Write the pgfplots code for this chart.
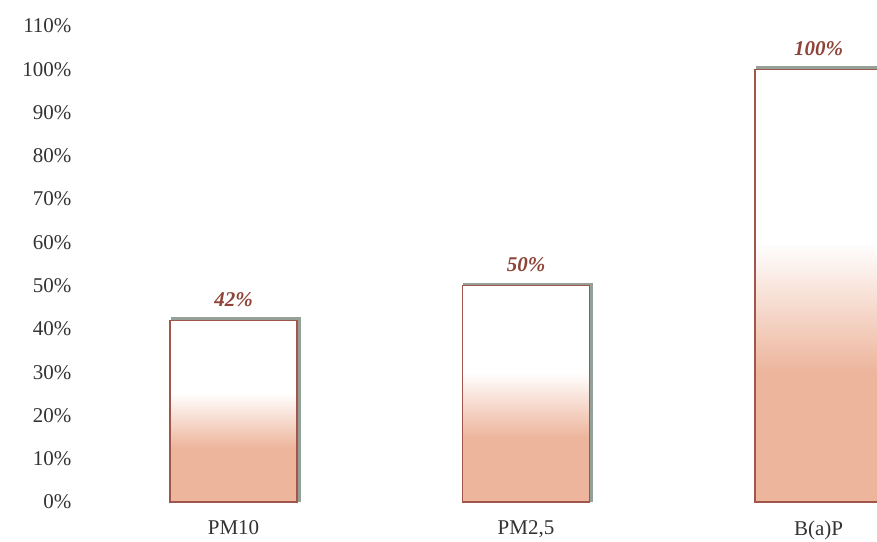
\documentclass[border=0pt]{standalone}
\usepackage{pgfplots}
\pgfplotsset{compat=1.18}
\usepackage{fontspec}
\setmainfont{Liberation Serif}
\definecolor{salmon}{HTML}{EDB59C}
\definecolor{barline}{HTML}{A0564A}
\definecolor{lbl}{HTML}{8E4438}
\definecolor{shadowc}{HTML}{95A198}
\definecolor{ticktxt}{HTML}{333333}
\pgfdeclareverticalshading{barshade}{100bp}{color(0bp)=(salmon); color(25bp)=(salmon); color(40bp)=(salmon); color(55bp)=(white); color(75bp)=(white); color(100bp)=(white)}
\pgfplotsset{mybar/.style={ybar, bar width=0.434, bar shift=0pt, draw=barline, line width=1.2pt, shading=barshade,
    preaction={draw=shadowc, line width=3pt, transform canvas={xshift=2pt, yshift=1.5pt}}}}
\begin{document}
\begin{tikzpicture}
\begin{axis}[
  name=ax,
  scale only axis,
  width=797pt, height=476pt,
  xmin=-0.525, xmax=2.2,
  ymin=0, ymax=110,
  ytick={0,10,...,110},
  yticklabel={\pgfmathprintnumber{\tick}\%},
  xtick={0,1,2},
  xticklabels={PM10,PM2{,}5,B(a)P},
  axis line style={draw=none},
  major tick length=0pt,
  tick style={draw=none},
  /pgf/number format/assume math mode=true,
  ticklabel style={font=\fontsize{21}{25}\selectfont, text=ticktxt},
  yticklabel style={xshift=-5pt},
  xticklabel style={yshift=-15pt},
  clip=true,
  nodes near coords={\pgfmathprintnumber{\pgfplotspointmeta}\%},
  nodes near coords style={font=\fontsize{21}{24}\selectfont\bfseries\itshape, text=lbl, anchor=south, yshift=10pt},
]
\addplot[mybar] coordinates {(0,42)};
\addplot[mybar] coordinates {(1,50)};
\addplot[mybar] coordinates {(2,100)};
\end{axis}
\pgfresetboundingbox
\path[use as bounding box] ([xshift=-80pt, yshift=-39pt]ax.south west) rectangle ([yshift=26pt]ax.north east);
\end{tikzpicture}
\end{document}
